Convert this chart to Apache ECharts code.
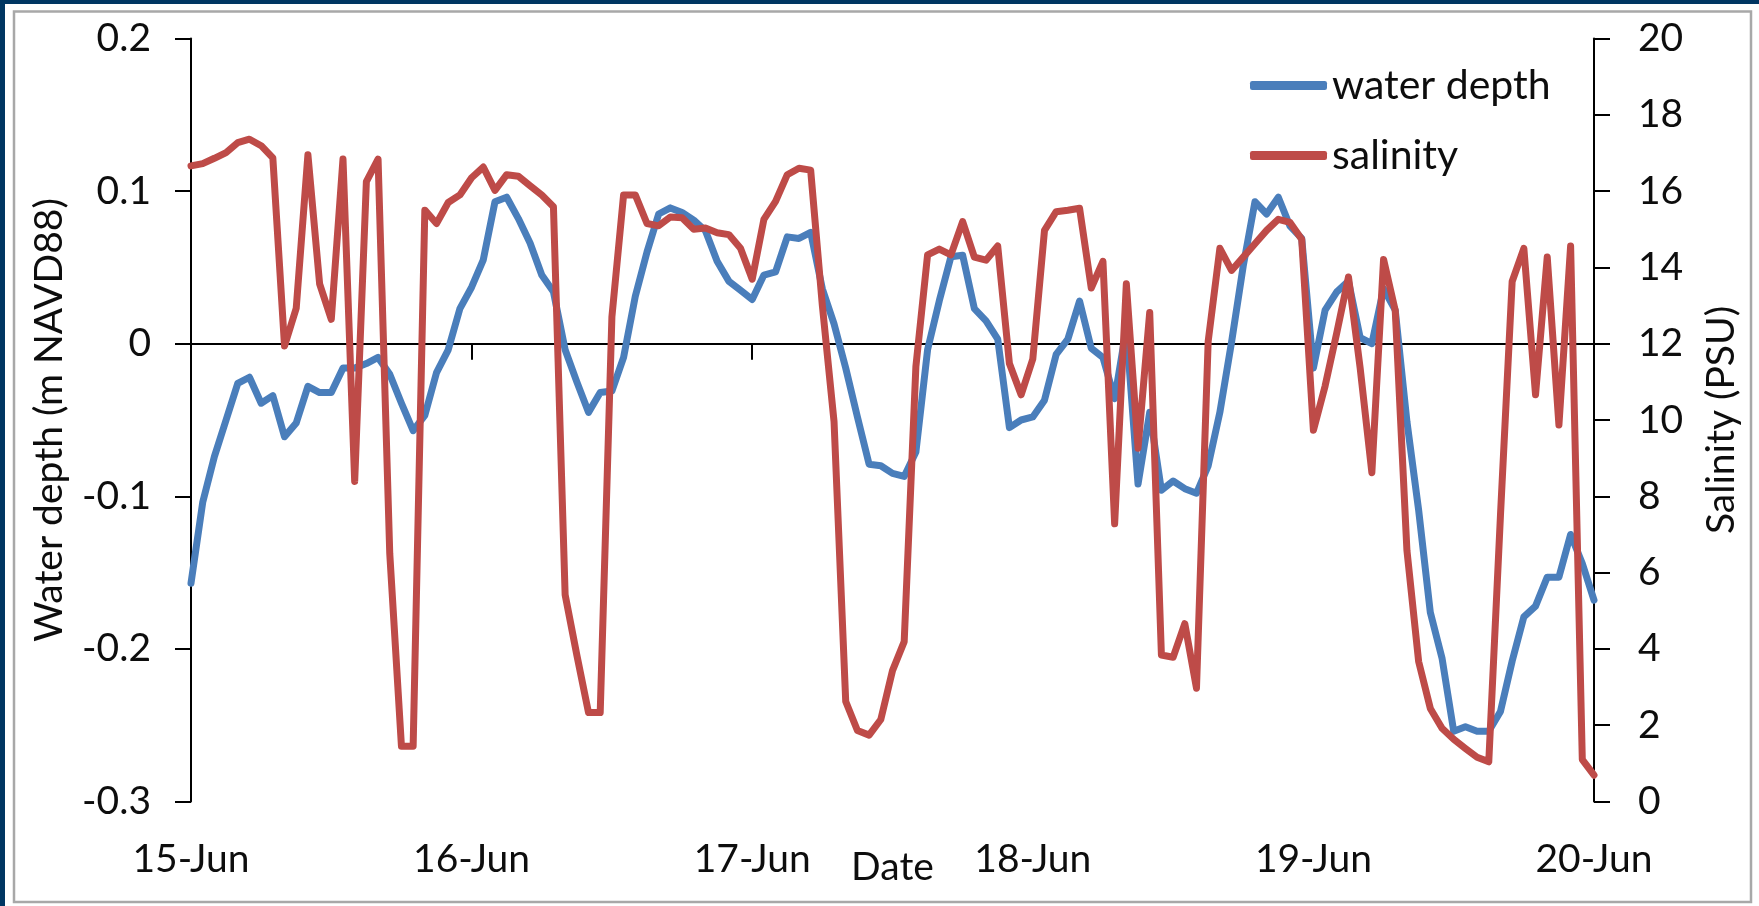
<!DOCTYPE html>
<html>
<head>
<meta charset="utf-8">
<script src="https://cdn.jsdelivr.net/npm/echarts@6/dist/echarts.min.js"></script>
<style>
html,body{margin:0;padding:0;background:#ffffff;}
#chart{width:1759px;height:906px;}
</style>
</head>
<body>
<div id="chart"></div>
<script>
// Day labels (x-axis tick labels), hourly samples between them
const dayLabels = ['15-Jun', '16-Jun', '17-Jun', '18-Jun', '19-Jun', '20-Jun'];
const hoursPerDay = 24;

// Water depth (m NAVD88), hourly
const waterDepth = [
  -0.157, -0.104, -0.074, -0.050, -0.026, -0.022, -0.039, -0.034, -0.061, -0.052, -0.028, -0.032,
  -0.032, -0.016, -0.016, -0.013, -0.009, -0.020, -0.039, -0.057, -0.047, -0.019, -0.004, 0.023,
  0.037, 0.055, 0.093, 0.096, 0.082, 0.066, 0.045, 0.034, -0.004, -0.025, -0.045, -0.032,
  -0.031, -0.009, 0.031, 0.060, 0.085, 0.089, 0.086, 0.081, 0.074, 0.054, 0.041, 0.035,
  0.029, 0.045, 0.047, 0.070, 0.069, 0.073, 0.036, 0.013, -0.016, -0.048, -0.079, -0.080,
  -0.085, -0.087, -0.071, -0.004, 0.028, 0.057, 0.058, 0.023, 0.015, 0.003, -0.055, -0.050,
  -0.048, -0.037, -0.007, 0.003, 0.028, -0.003, -0.009, -0.036, 0.010, -0.092, -0.045, -0.096,
  -0.090, -0.095, -0.098, -0.080, -0.045, 0.001, 0.051, 0.093, 0.085, 0.096, 0.077, 0.069,
  -0.016, 0.022, 0.034, 0.041, 0.004, 0.000, 0.036, 0.022, -0.051, -0.109, -0.176, -0.206,
  -0.254, -0.251, -0.254, -0.254, -0.241, -0.208, -0.179, -0.172, -0.153, -0.153, -0.125, -0.144,
  -0.168
];

// Salinity (PSU), hourly
const salinity = [
  16.66, 16.72, 16.86, 17.01, 17.27, 17.36, 17.19, 16.87, 11.94, 12.93, 16.95, 13.57,
  12.64, 16.84, 8.39, 16.25, 16.84, 6.5, 1.45, 1.45, 15.5, 15.15, 15.7, 15.9,
  16.35, 16.63, 16.02, 16.43, 16.39, 16.14, 15.9, 15.59, 5.42, 3.84, 2.33, 2.33,
  12.7, 15.9, 15.9, 15.15, 15.09, 15.32, 15.3, 15.0, 15.03, 14.91, 14.86, 14.5,
  13.69, 15.26, 15.73, 16.43, 16.6, 16.55, 13.0, 9.96, 2.62, 1.86, 1.74, 2.15,
  3.43, 4.19, 11.4, 14.33, 14.48, 14.33, 15.2, 14.27, 14.19, 14.56, 11.48, 10.66,
  11.6, 14.97, 15.46, 15.5, 15.55, 13.46, 14.16, 7.28, 13.57, 9.26, 12.82, 3.84,
  3.78, 4.66, 2.97, 12.06, 14.5, 13.92, 14.27, 14.62, 14.97, 15.26, 15.18, 14.74,
  9.73, 10.89, 12.29, 13.75, 11.36, 8.62, 14.21, 12.87, 6.58, 3.67, 2.44, 1.92,
  1.63, 1.39, 1.16, 1.04, 7.5, 13.63, 14.5, 10.66, 14.27, 9.87, 14.56, 1.1,
  0.69
];

const depthAxis = { min: -0.3, max: 0.2, interval: 0.1 };
const salinityAxis = { min: 0, max: 20, interval: 2 };

// Build hourly category names from the day labels
const categories = [];
for (let d = 0; d < dayLabels.length; d++) {
  const hMax = (d === dayLabels.length - 1) ? 1 : hoursPerDay;
  for (let h = 0; h < hMax; h++) {
    categories.push(dayLabels[d] + ' ' + (h < 10 ? '0' + h : h) + ':00');
  }
}

const FONT = 'Lato';
const TXT = '#0d0d0d';
const BLUE = '#4a7ebb';
const RED = '#be4b48';

const chart = echarts.init(document.getElementById('chart'), null, { renderer: 'canvas' });
chart.setOption({
  backgroundColor: '#ffffff',
  animation: false,
  textStyle: { fontFamily: FONT, color: TXT },
  graphic: [
    { type: 'rect', z: -10, silent: true, shape: { x: 0, y: 0, width: 1759, height: 4 }, style: { fill: '#003662' } },
    { type: 'rect', z: -10, silent: true, shape: { x: 0, y: 0, width: 5, height: 906 }, style: { fill: '#003662' } },
    { type: 'rect', z: -10, silent: true, shape: { x: 14, y: 11.5, width: 1737, height: 890.5 }, style: { fill: null, stroke: '#a8a8a8', lineWidth: 2.5 } }
  ],
  grid: { left: 191, right: 165, top: 38.5, bottom: 104.5, containLabel: false, outerBoundsMode: 'none' },
  legend: {
    orient: 'vertical',
    left: 1245,
    top: 60,
    itemGap: 29,
    itemWidth: 77,
    itemHeight: 9,
    icon: 'roundRect',
    textStyle: { fontFamily: FONT, fontSize: 41, color: TXT, padding: [0, 0, 0, 0] },
    data: ['water depth', 'salinity']
  },
  xAxis: [
    {
      type: 'category',
      position: 'bottom',
      data: categories,
      boundaryGap: false,
      axisLine: { show: true, onZero: true, onZeroAxisIndex: 0, lineStyle: { color: '#000', width: 2 } },
      axisTick: { show: true, interval: hoursPerDay - 1, inside: false, length: 16, lineStyle: { color: '#000', width: 2 } },
      axisLabel: { show: false },
      splitLine: { show: false }
    },
    {
      type: 'category',
      position: 'bottom',
      data: categories,
      boundaryGap: false,
      axisLine: { show: false, onZero: false },
      axisTick: { show: false },
      axisLabel: {
        show: true,
        interval: hoursPerDay - 1,
        margin: 38,
        fontFamily: FONT,
        fontSize: 39,
        color: TXT,
        formatter: function (v) { return v.split(' ')[0]; }
      },
      splitLine: { show: false },
      name: 'Date',
      nameLocation: 'middle',
      nameGap: 46,
      nameMoveOverlap: false,
      nameTextStyle: { fontFamily: FONT, fontSize: 39, color: TXT }
    }
  ],
  yAxis: [
    {
      type: 'value',
      position: 'left',
      min: depthAxis.min,
      max: depthAxis.max,
      interval: depthAxis.interval,
      axisLine: { show: true, onZero: false, lineStyle: { color: '#000', width: 2 } },
      axisTick: { show: true, inside: false, length: 16, lineStyle: { color: '#000', width: 2 } },
      axisLabel: { margin: 40, fontFamily: FONT, fontSize: 39, color: TXT },
      splitLine: { show: false },
      name: 'Water depth (m NAVD88)',
      nameLocation: 'middle',
      nameRotate: 90,
      nameGap: 122,
      nameMoveOverlap: false,
      nameTextStyle: { fontFamily: FONT, fontSize: 39, color: TXT }
    },
    {
      type: 'value',
      position: 'right',
      min: salinityAxis.min,
      max: salinityAxis.max,
      interval: salinityAxis.interval,
      axisLine: { show: true, onZero: false, lineStyle: { color: '#000', width: 2 } },
      axisTick: { show: true, inside: false, length: 16, lineStyle: { color: '#000', width: 2 } },
      axisLabel: { margin: 44, fontFamily: FONT, fontSize: 39, color: TXT },
      splitLine: { show: false },
      name: 'Salinity (PSU)',
      nameLocation: 'middle',
      nameRotate: 90,
      nameGap: 108,
      nameMoveOverlap: false,
      nameTextStyle: { fontFamily: FONT, fontSize: 39, color: TXT }
    }
  ],
  series: [
    {
      name: 'water depth',
      type: 'line',
      xAxisIndex: 0,
      yAxisIndex: 0,
      data: waterDepth,
      showSymbol: false,
      symbol: 'none',
      color: BLUE,
      lineStyle: { color: BLUE, width: 7, join: 'round', cap: 'round' },
      z: 2
    },
    {
      name: 'salinity',
      type: 'line',
      xAxisIndex: 0,
      yAxisIndex: 1,
      data: salinity,
      showSymbol: false,
      symbol: 'none',
      color: RED,
      lineStyle: { color: RED, width: 7, join: 'round', cap: 'round' },
      z: 3
    }
  ]
});
</script>
</body>
</html>
